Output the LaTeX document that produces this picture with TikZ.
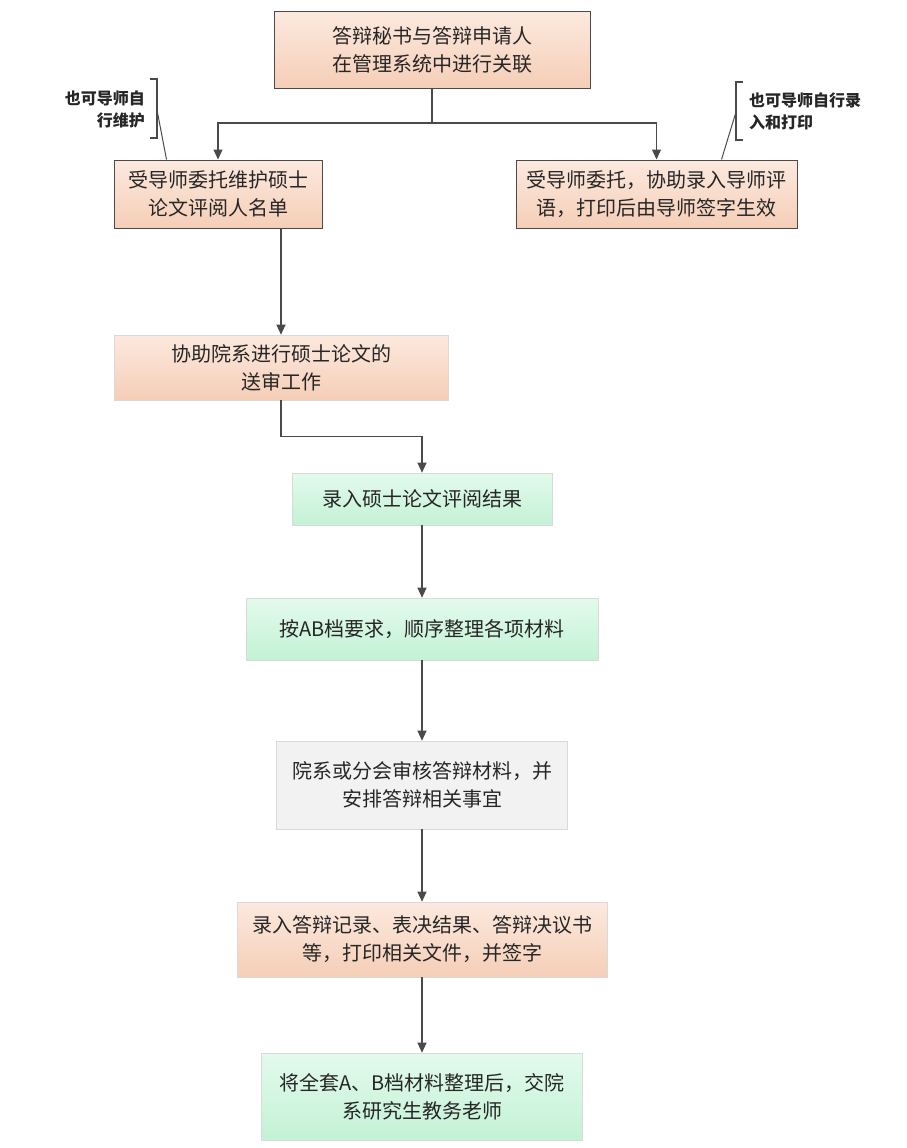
\documentclass[tikz,border=0pt]{standalone}
\usepackage{fontspec}
\usepackage{xcolor}
\usepackage{tikz}
\usetikzlibrary{calc,arrows.meta}
\newfontfamily\cjk{Noto Sans CJK SC}
\definecolor{ink}{HTML}{262626}
\definecolor{edge}{HTML}{4A4A4A}
\definecolor{softedge}{HTML}{D9D9D9}
\definecolor{peachtop}{HTML}{FCE9DE}
\definecolor{peachbot}{HTML}{F5CEB7}
\definecolor{greentop}{HTML}{E3FAEC}
\definecolor{greenbot}{HTML}{C3F2D5}
\definecolor{greyfill}{HTML}{F2F2F2}
\tikzset{
  box/.style={rectangle, align=center, text=ink, font=\cjk\fontsize{20}{28}\selectfont, inner sep=2pt},
  peachbox/.style={box, draw=edge, line width=1pt, top color=peachtop, bottom color=peachbot},
  peachsoft/.style={box, draw=softedge, line width=0.6pt, top color=peachtop, bottom color=peachbot},
  greenbox/.style={box, draw=softedge, line width=0.6pt, top color=greentop, bottom color=greenbot},
  greybox/.style={box, draw=softedge, line width=0.6pt, fill=greyfill},
  note/.style={text=ink, font=\cjk\bfseries\fontsize{16}{22}\selectfont, inner sep=0pt},
  arr/.style={draw=edge, line width=1.1pt, -{Triangle[length=10pt,width=9pt]}},
  bracket/.style={draw=edge, line width=1.3pt},
  leader/.style={draw=edge, line width=1pt},
}
\begin{document}
\begin{tikzpicture}[x=1pt, y=-1pt]
  \useasboundingbox (0,0) rectangle (906,1148);

  % top of the chart
  \node[peachbox, minimum width=316pt, minimum height=76pt] (link) at (432,50)
    {答辩秘书与答辩申请人\\在管理系统中进行关联};
  \node[peachbox, minimum width=208pt, minimum height=68pt] (names) at (218,194)
    {受导师委托维护硕士\\论文评阅人名单};
  \node[peachbox, minimum width=281pt, minimum height=68pt] (comment) at (656.5,194)
    {受导师委托，协助录入导师评\\语，打印后由导师签字生效};

  \coordinate (split) at (432,123);
  \draw[arr] (link.south) -- (split) -| (names.north);
  \draw[arr] (split) -| (comment.north);

  % side notes
  \node[note, anchor=east, align=right] (lnote) at (145,109) {也可导师自\\行维护};
  \draw[bracket] (150,79) -- (157,79) -- (157,138) -- (150,138);
  \coordinate (lfoot) at (157,110);
  \draw[leader] (lfoot) -- ([xshift=53pt]names.north west);

  \node[note, anchor=west, align=left] (rnote) at (749,111) {也可导师自行录\\入和打印};
  \draw[bracket] (743,82) -- (736,82) -- (736,140) -- (743,140);
  \coordinate (rfoot) at (736,112);
  \draw[leader] (rfoot) -- ([xshift=206pt]comment.north west);

  % main chain
  \node[peachsoft, minimum width=334pt, minimum height=65pt] (review) at (281,367.5)
    {协助院系进行硕士论文的\\送审工作};
  \node[greenbox, minimum width=260pt, minimum height=52pt] (result) at (422,499)
    {录入硕士论文评阅结果};
  \node[greenbox, minimum width=352pt, minimum height=62pt] (sort) at (422,629)
    {按AB档要求，顺序整理各项材料};
  \node[greybox, minimum width=291pt, minimum height=88pt] (check) at (422,785)
    {院系或分会审核答辩材料，并\\安排答辩相关事宜};
  \node[peachsoft, minimum width=370pt, minimum height=75pt] (record) at (422,939.5)
    {录入答辩记录、表决结果、答辩决议书\\等，打印相关文件，并签字};
  \node[greenbox, minimum width=321pt, minimum height=87pt] (archive) at (422,1096.5)
    {将全套A、B档材料整理后，交院\\系研究生教务老师};

  \draw[arr] (names.south -| review.north) -- (review.north);
  \draw[arr] (review.south) -- ++(0,36) -| (result.north);
  \draw[arr] (result) -- (sort);
  \draw[arr] (sort) -- (check);
  \draw[arr] (check) -- (record);
  \draw[arr] (record) -- (archive);
\end{tikzpicture}
\end{document}
